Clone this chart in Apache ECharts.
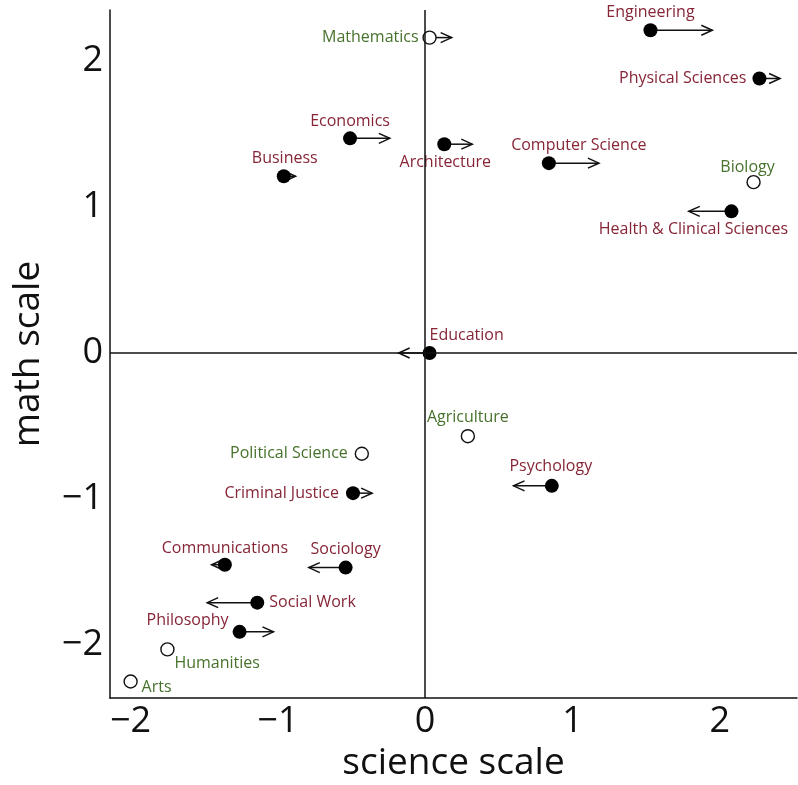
<!DOCTYPE html>
<html>
<head>
<meta charset="utf-8">
<script src="https://cdn.jsdelivr.net/npm/echarts@6/dist/echarts.min.js"></script>
<style>
html,body{margin:0;padding:0;background:#fff;}
#chart{width:798px;height:785px;}
</style>
</head>
<body>
<div id="chart"></div>
<script>
// ---- data ----
const fields = ['Mathematics','Engineering','Physical Sciences','Economics','Architecture','Computer Science','Biology','Health & Clinical Sciences','Business','Education','Agriculture','Psychology','Political Science','Criminal Justice','Communications','Sociology','Social Work','Philosophy','Humanities','Arts'];
const scienceScale = [0.03, 1.53, 2.27, -0.51, 0.13, 0.84, 2.23, 2.08, -0.96, 0.03, 0.29, 0.86, -0.43, -0.49, -1.36, -0.54, -1.14, -1.26, -1.75, -2.00];
const mathScale    = [2.16, 2.21, 1.88, 1.47, 1.43, 1.30, 1.17, 0.97, 1.21, 0.00, -0.57, -0.91, -0.69, -0.96, -1.45, -1.47, -1.71, -1.91, -2.03, -2.25];
const arrowEnd     = [0.18, 1.95, 2.41, -0.24, 0.32, 1.18, null, 1.79, -0.88, -0.18, null, 0.60, null, -0.36, -1.45, -0.79, -1.48, -1.03, null, null];
const hollow       = [true, false, false, false, false, false, true, false, false, false, true, false, true, false, false, false, false, false, true, true];
const xTicks = [-2, -1, 0, 1, 2];
const yTicks = [-2, -1, 0, 1, 2];

// ---- label layout (align, dx, dy relative to the point) ----
const labelLayout = {
  'Mathematics': ['right', -11, 0],
  'Engineering': ['center', 0, -18],
  'Physical Sciences': ['right', -13, 0],
  'Economics': ['center', 0, -17],
  'Architecture': ['center', 1, 18],
  'Computer Science': ['center', 30, -18],
  'Biology': ['center', -6, -15],
  'Health & Clinical Sciences': ['center', -38, 18],
  'Business': ['center', 1, -18],
  'Education': ['left', 0, -18],
  'Agriculture': ['center', 0, -19],
  'Psychology': ['center', -1, -19],
  'Political Science': ['right', -14, 0],
  'Criminal Justice': ['right', -14, 0],
  'Communications': ['center', 0, -16],
  'Sociology': ['center', 0, -18],
  'Social Work': ['left', 12, 0],
  'Philosophy': ['center', -52, -11],
  'Humanities': ['left', 7, 14],
  'Arts': ['left', 11, 6]
};

const RED = '#862536';
const GREEN = '#46722c';
const FONT = 'Open Sans';

function pointItem(i) {
  const lay = labelLayout[fields[i]];
  return {
    name: fields[i],
    value: [scienceScale[i], mathScale[i]],
    label: {
      show: true,
      position: 'inside',
      align: lay[0],
      verticalAlign: 'middle',
      offset: [lay[1], lay[2]],
      formatter: fields[i],
      color: hollow[i] ? GREEN : RED,
      fontFamily: FONT,
      fontSize: 16
    }
  };
}

const filledData = [], hollowData = [], arrowData = [];
fields.forEach((f, i) => {
  if (hollow[i]) hollowData.push(pointItem(i)); else filledData.push(pointItem(i));
  if (arrowEnd[i] !== null) arrowData.push([scienceScale[i], mathScale[i], arrowEnd[i]]);
});

const minusFmt = v => String(v).replace('-', '\u2212');

const chart = echarts.init(document.getElementById('chart'), null, {renderer: 'canvas'});
chart.setOption({
  backgroundColor: '#fff',
  animation: false,
  grid: {left: 110, top: 10, right: 1, bottom: 87, containLabel: false, outerBoundsMode: 'none'},
  xAxis: {
    type: 'value', min: -2.14, max: 2.525,
    name: 'science scale', nameLocation: 'middle', nameGap: 47,
    nameTextStyle: {fontFamily: FONT, fontSize: 37, color: '#111'},
    axisLine: {show: true, onZero: false, lineStyle: {color: '#111', width: 1.5}},
    axisTick: {show: false},
    splitLine: {show: false},
    axisLabel: {customValues: xTicks, formatter: minusFmt, margin: 6, fontFamily: FONT, fontSize: 36, color: '#111'}
  },
  yAxis: {
    type: 'value', min: -2.363, max: 2.349,
    name: 'math scale', nameLocation: 'middle', nameGap: 63,
    nameTextStyle: {fontFamily: FONT, fontSize: 37, color: '#111'},
    axisLine: {show: true, onZero: false, lineStyle: {color: '#111', width: 1.5}},
    axisTick: {show: false},
    splitLine: {show: false},
    axisLabel: {customValues: yTicks, formatter: minusFmt, margin: 7, fontFamily: FONT, fontSize: 36, color: '#111'}
  },
  series: [
    {
      type: 'custom',
      z: 1,
      silent: true,
      encode: {x: [0, 2], y: 1},
      data: arrowData,
      renderItem: function (params, api) {
        const x0 = api.value(0), y = api.value(1), x1 = api.value(2);
        const p0 = api.coord([x0, y]), p1 = api.coord([x1, y]);
        const dir = p1[0] >= p0[0] ? 1 : -1;
        const L = 11, H = 5;
        return {
          type: 'group',
          children: [
            {type: 'line', shape: {x1: p0[0], y1: p0[1], x2: p1[0], y2: p1[1]}, style: {stroke: '#111', lineWidth: 1.5}},
            {type: 'polyline', shape: {points: [[p1[0] - dir * L, p1[1] - H], [p1[0], p1[1]], [p1[0] - dir * L, p1[1] + H]]}, style: {stroke: '#111', lineWidth: 1.5, fill: null}}
          ]
        };
      },
      markLine: {
        silent: true,
        symbol: ['none', 'none'],
        label: {show: false},
        lineStyle: {color: '#111', width: 1.5, type: 'solid'},
        data: [{xAxis: 0}, {yAxis: 0}]
      }
    },
    {
      type: 'scatter', z: 3,
      symbol: 'circle', symbolSize: 14,
      itemStyle: {color: '#000', opacity: 1},
      data: filledData
    },
    {
      type: 'scatter', z: 3,
      symbol: 'circle', symbolSize: 13,
      itemStyle: {color: '#fff', borderColor: '#111', borderWidth: 1.4, opacity: 1},
      data: hollowData
    }
  ]
});
</script>
</body>
</html>
